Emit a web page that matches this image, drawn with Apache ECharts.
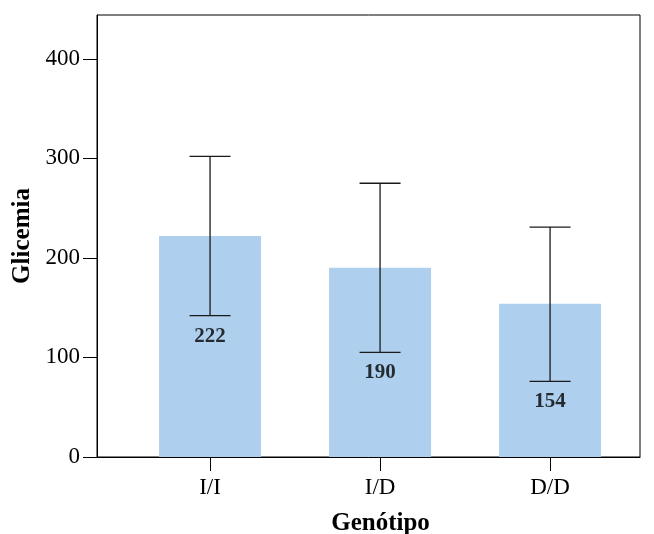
<!DOCTYPE html>
<html>
<head>
<meta charset="utf-8">
<script src="https://cdn.jsdelivr.net/npm/echarts@6/dist/echarts.min.js"></script>
<style>
  html, body { margin: 0; padding: 0; background: #fff; }
  #chart { width: 654px; height: 534px; }
</style>
</head>
<body>
<div id="chart"></div>
<script>
// Mean blood glucose by genotype, with error bars
const genotypes = ['I/I', 'I/D', 'D/D'];
const meanValues = [222, 190, 154];
const lowerValues = [142, 105, 76];
const upperValues = [302, 275, 231];
const yTicks = [0, 100, 200, 300, 400];

const positions = genotypes.map((g, i) => i + 1);
const SERIF = '"Liberation Serif", "Times New Roman", serif';

const chart = echarts.init(document.getElementById('chart'), null, { renderer: 'canvas' });

const barData = positions.map((p, i) => [p, meanValues[i]]);
const errData = positions.map((p, i) => [p, lowerValues[i], upperValues[i]]);
const labelData = positions.map((p, i) => [p, lowerValues[i]]);

chart.setOption({
  animation: false,
  backgroundColor: '#ffffff',
  grid: {
    left: 97, right: 14, top: 15, bottom: 77,
    outerBoundsMode: 'none',
    containLabel: false,
    show: true, borderColor: '#000', borderWidth: 1, backgroundColor: 'transparent'
  },
  xAxis: {
    type: 'value',
    min: 0.335,
    max: 3.529,
    name: 'Genótipo',
    nameLocation: 'middle',
    nameGap: 54,
    nameTextStyle: { fontFamily: SERIF, fontWeight: 'bold', fontSize: 25, color: '#000', padding: [0, 0, 0, 24] },
    axisLine: { show: true, onZero: false, lineStyle: { color: '#000', width: 1 } },
    axisTick: { show: true, length: 14, lineStyle: { color: '#000' }, customValues: positions },
    axisLabel: {
      show: true, margin: 19, fontFamily: SERIF, fontSize: 23, color: '#000',
      customValues: positions,
      formatter: v => genotypes[Math.round(v) - 1] || ''
    },
    splitLine: { show: false }
  },
  yAxis: {
    type: 'value',
    min: 0,
    max: 444,
    name: 'Glicemia',
    nameLocation: 'middle',
    nameGap: 62,
    nameRotate: 90,
    nameTextStyle: { fontFamily: SERIF, fontWeight: 'bold', fontSize: 25, color: '#000' },
    axisLine: { show: true, lineStyle: { color: '#000', width: 1 } },
    axisTick: { show: true, length: 14, lineStyle: { color: '#000' }, customValues: yTicks },
    axisLabel: { show: true, margin: 17, fontFamily: SERIF, fontSize: 23, color: '#000', customValues: yTicks },
    splitLine: { show: false }
  },
  series: [
    {
      type: 'bar',
      data: barData,
      barWidth: 102,
      itemStyle: { color: '#aecfed' },
      z: 1
    },
    {
      type: 'custom',
      data: errData,
      z: 3,
      renderItem: function (params, api) {
        const x = api.value(0);
        const lo = api.coord([x, api.value(1)]);
        const hi = api.coord([x, api.value(2)]);
        const half = 20.5;
        const style = { stroke: '#1a1a1a', lineWidth: 1.3 };
        return {
          type: 'group',
          children: [
            { type: 'line', shape: { x1: hi[0], y1: hi[1], x2: lo[0], y2: lo[1] }, style },
            { type: 'line', shape: { x1: hi[0] - half, y1: hi[1], x2: hi[0] + half, y2: hi[1] }, style },
            { type: 'line', shape: { x1: lo[0] - half, y1: lo[1], x2: lo[0] + half, y2: lo[1] }, style }
          ]
        };
      }
    },
    {
      type: 'scatter',
      data: labelData,
      symbolSize: 0,
      z: 4,
      label: {
        show: true,
        position: 'bottom',
        distance: 10,
        fontFamily: SERIF,
        fontWeight: 'bold',
        fontSize: 21,
        color: '#000',
        formatter: p => String(meanValues[p.dataIndex])
      }
    }
  ]
});
</script>
</body>
</html>
